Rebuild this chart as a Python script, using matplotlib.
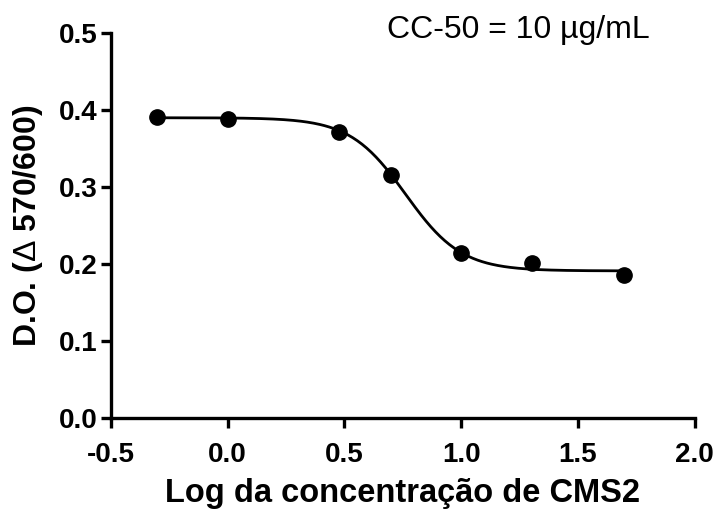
import numpy as np
import matplotlib.pyplot as plt

plt.rcParams['font.family'] = ['Liberation Sans', 'DejaVu Sans']
plt.rcParams['mathtext.fontset'] = 'custom'
plt.rcParams['mathtext.rm'] = 'Liberation Sans'

# log da concentracao (ug/mL) e D.O. medida
log_conc = [-0.301, 0.0, 0.477, 0.699, 1.0, 1.301, 1.699]
do_values = [0.391, 0.388, 0.371, 0.316, 0.214, 0.201, 0.186]

# parametros do ajuste sigmoide (dose-resposta)
topo = 0.390
base = 0.191
log_cc50 = 0.762
hill = 3.64


def sigmoide(x):
    return base + (topo - base) / (1 + 10 ** ((x - log_cc50) * hill))


fig = plt.figure(figsize=(7.2, 5.09), dpi=100)
ax = fig.add_axes([0.154, 0.179, 0.811, 0.756])

x_fit = np.linspace(min(log_conc), max(log_conc), 300)
ax.plot(x_fit, sigmoide(x_fit), color='black', linewidth=2.0, zorder=2)
ax.plot(log_conc, do_values, 'o', color='black', markersize=11, zorder=3)

ax.set_xlim(-0.5, 2.0)
ax.set_ylim(0.0, 0.5)
ax.set_xticks([-0.5, 0.0, 0.5, 1.0, 1.5, 2.0])
ax.set_yticks([0.0, 0.1, 0.2, 0.3, 0.4, 0.5])
ax.set_xticklabels(['-0.5', '0.0', '0.5', '1.0', '1.5', '2.0'])
ax.set_yticklabels(['0.0', '0.1', '0.2', '0.3', '0.4', '0.5'])

for lado in ['top', 'right']:
    ax.spines[lado].set_visible(False)
for lado in ['left', 'bottom']:
    ax.spines[lado].set_linewidth(2.4)
ax.tick_params(width=2.4, length=7.5, labelsize=20, pad=2)
ax.tick_params(axis='x', pad=10)
for lab in ax.get_xticklabels() + ax.get_yticklabels():
    lab.set_fontweight('bold')

ax.set_xlabel('Log da concentração de CMS2', fontsize=23.5, fontweight='bold', labelpad=7)
ax.set_ylabel(r'D.O. ($\mathrm{\Delta}$ 570/600)', fontsize=23, fontweight='bold', labelpad=10)

ax.text(0.473, 1.008, 'CC-50 = 10 µg/mL', transform=ax.transAxes,
        fontsize=23, ha='left', va='center')

fig.savefig('out.png', dpi=100)
